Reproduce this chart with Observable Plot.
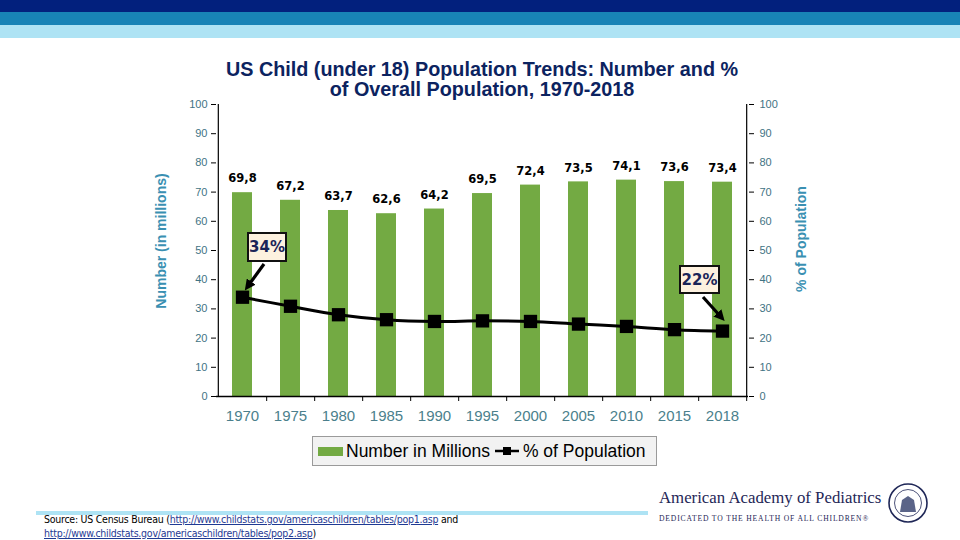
<!DOCTYPE html>
<html><head><meta charset="utf-8">
<script src="https://cdn.jsdelivr.net/npm/d3@7"></script>
<script src="https://cdn.jsdelivr.net/npm/@observablehq/plot@0.6"></script>
<style>
html,body{margin:0;padding:0;background:#fff;}
#wrap{position:relative;width:960px;height:540px;overflow:hidden;font-family:"Liberation Sans",Arial,sans-serif;}
.abs{position:absolute;}
.tl{left:180px;width:604px;text-align:center;font-weight:bold;font-size:19.8px;line-height:18px;height:18px;color:#0c2360;white-space:nowrap}
</style></head>
<body><div id="wrap">
<div class="abs" style="left:0;top:0;width:960px;height:12px;background:#02207d"></div>
<div class="abs" style="left:0;top:12px;width:960px;height:13px;background:#1883b6"></div>
<div class="abs" style="left:0;top:25px;width:960px;height:13px;background:#aee3f4"></div>
<div id="chart" class="abs" style="left:0;top:0"></div>
<div class="abs tl" id="title1" style="top:60px"></div>
<div class="abs tl" id="title2" style="top:80px"></div>
<div class="abs" id="ylab" style="left:161px;top:241px;transform:translate(-50%,-50%) rotate(-90deg);white-space:nowrap;font-weight:bold;font-size:14px;color:#3a90b2"></div>
<div class="abs" id="ylab2" style="left:801px;top:239px;transform:translate(-50%,-50%) rotate(-90deg);white-space:nowrap;font-weight:bold;font-size:14px;color:#3a90b2"></div>
<div class="abs" id="legend" style="left:312px;top:436px;width:345px;height:30px;background:#f2f2f2;border:1px solid #9a9a9a;font-size:17.5px;color:#000;display:flex;align-items:center;box-sizing:border-box;padding-left:5px;white-space:nowrap"></div>
<div class="abs" style="left:36px;top:511px;width:612px;height:4px;background:#aee3f4"></div>
<div class="abs" id="source" style="left:44px;top:512px;font-family:'DejaVu Sans Condensed','DejaVu Sans',sans-serif;font-size:10.5px;line-height:14px;color:#000;letter-spacing:-0.25px;white-space:nowrap"></div>
<div class="abs" style="left:659px;top:488px;font-family:'Liberation Serif','DejaVu Serif',serif;font-size:16.8px;color:#1f2757;white-space:nowrap">American Academy of Pediatrics</div>
<div class="abs" style="left:659px;top:514px;font-family:'Liberation Serif','DejaVu Serif',serif;font-size:7.6px;letter-spacing:0.85px;color:#1f2757;white-space:nowrap">DEDICATED TO THE HEALTH OF ALL CHILDREN®</div>
<svg class="abs" style="left:886px;top:481px" width="44" height="44"><circle cx="22" cy="22" r="19" fill="#fff" stroke="#1f2757" stroke-width="1.6"/><circle cx="22" cy="22" r="13.5" fill="none" stroke="#1f2757" stroke-width="0.8"/><path d="M14 31 L16 19 L22 15 L28 19 L30 31 Z" fill="#5a6488"/></svg>
<div class="abs ann" style="left:247px;top:232px;width:40px;height:30px"></div>
<div class="abs ann" style="left:679px;top:265px;width:41px;height:29px"></div>
<svg class="abs" id="arrows" style="left:0;top:0" width="960" height="540"></svg>
</div>
<script>
const years = ["1970","1975","1980","1985","1990","1995","2000","2005","2010","2015","2018"];
const numbers = [69.8, 67.2, 63.7, 62.6, 64.2, 69.5, 72.4, 73.5, 74.1, 73.6, 73.4];
const percents = [34.0, 30.9, 28.0, 26.3, 25.7, 25.9, 25.7, 24.8, 24.0, 22.9, 22.4];
const yTicks = [0,10,20,30,40,50,60,70,80,90,100];
const annotations = [{label:"34%"},{label:"22%"}];
const titleText = ["US Child (under 18) Population Trends: Number and %", "of Overall Population, 1970-2018"];
const seriesNames = ["Number in Millions", "% of Population"];

const data = years.map((y,i)=>({year:y, num:numbers[i], pct:percents[i]}));
const W = 960, H = 540, mL = 216, mR = 212, mT = 104, mB = 144;
const half = (W - mL - mR) / years.length / 2;
const green = "#73aa43", tickColor = "#3f7384";

const chart = Plot.plot({
  width: W, height: H, marginLeft: mL, marginRight: mR, marginTop: mT, marginBottom: mB,
  style: {background: "transparent", fontFamily: "'Liberation Sans', Arial, sans-serif", overflow: "visible"},
  x: {type: "band", domain: years, paddingInner: 0.58, paddingOuter: 0.29, axis: null, label: null},
  y: {domain: [0, 100], axis: null, label: null},
  marks: [
    Plot.barY(data, {x: "year", y: "num", fill: green}),
    Plot.ruleY([0], {stroke: "#000", strokeWidth: 1.5}),
    Plot.ruleX([years[0]], {dx: -half, stroke: "#000", strokeWidth: 1.2}),
    Plot.ruleX([years[years.length-1]], {dx: half, stroke: "#000", strokeWidth: 1.2}),
    Plot.axisY({anchor: "left", ticks: yTicks, tickSize: 5, tickPadding: 4, fontSize: 11, color: tickColor, stroke: "#000", label: null}),
    Plot.axisY({anchor: "right", ticks: yTicks, tickSize: 5, tickPadding: 6, fontSize: 11, color: tickColor, stroke: "#000", label: null}),
    Plot.axisX({ticks: years, tickSize: 5, tickFormat: () => "", dx: half, stroke: "#000", label: null}),
    Plot.axisX({ticks: years, tickSize: 0, tickPadding: 14, fontSize: 15, color: "#4b7f8c", label: null}),
    Plot.line(data, {x: "year", y: "pct", stroke: "#000", strokeWidth: 3, curve: "catmull-rom"}),
    Plot.dot(data, {x: "year", y: "pct", symbol: "square", r: 7.5, fill: "#000"}),
    Plot.text(data, {x: "year", y: "num", text: d => d.num.toFixed(1).replace(".", ","), dy: -14, fontSize: 11.5, fontWeight: "bold", fill: "#000", fontFamily: "'DejaVu Sans', Verdana, sans-serif"})
  ]
});
document.getElementById("chart").appendChild(chart);

document.getElementById("title1").textContent = titleText[0];
document.getElementById("title2").textContent = titleText[1];
document.getElementById("ylab").textContent = "Number (in millions)";
document.getElementById("ylab2").textContent = "% of Population";
document.getElementById("legend").innerHTML =
  `<span style="display:inline-block;width:25px;height:9px;background:${green};margin-right:3px"></span>${seriesNames[0]}` +
  `<svg width="26" height="12" style="margin:0 3px 0 4px"><line x1="1" y1="6" x2="25" y2="6" stroke="#000" stroke-width="2.5"/><rect x="9" y="2" width="8" height="8" fill="#000"/></svg>${seriesNames[1]}`;
document.getElementById("source").innerHTML =
  'Source: US Census Bureau (<a style="color:#1f3a93;text-decoration:underline">http://www.childstats.gov/americaschildren/tables/pop1.asp</a> and<br><a style="color:#1f3a93;text-decoration:underline">http://www.childstats.gov/americaschildren/tables/pop2.asp</a>)';
document.querySelectorAll(".ann").forEach((el,i)=>{
  el.style.cssText += ";background:#fdf1df;border:2px solid #111;box-sizing:border-box;display:flex;align-items:center;justify-content:center;font-family:'DejaVu Sans',Verdana,sans-serif;font-weight:bold;font-size:15px;color:#1a2458";
  el.textContent = annotations[i].label;
});
const svg = d3.select("#arrows");
svg.append("defs").append("marker").attr("id","ah").attr("viewBox","0 0 10 10").attr("refX",5).attr("refY",5)
  .attr("markerWidth",3.4).attr("markerHeight",3.4).attr("orient","auto")
  .append("path").attr("d","M0,0 L10,5 L0,10 Z").attr("fill","#000");
[[264,264,248,286],[703,297,721,317]].forEach(([a,b,c,d])=>{
  svg.append("line").attr("x1",a).attr("y1",b).attr("x2",c).attr("y2",d).attr("stroke","#000").attr("stroke-width",3.2).attr("marker-end","url(#ah)");
});
</script>
</body></html>
